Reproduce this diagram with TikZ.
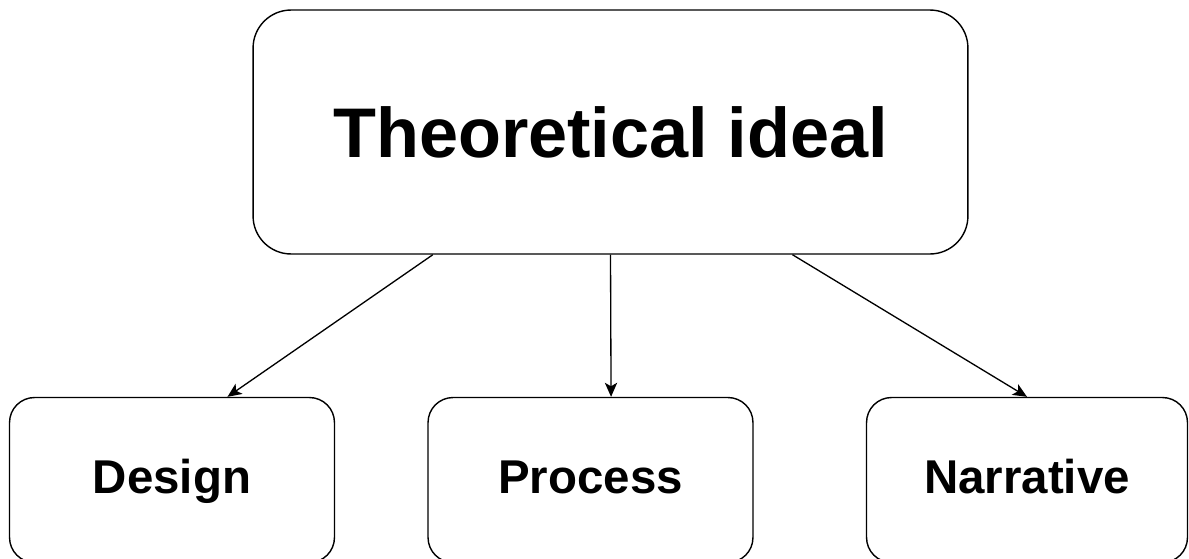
\documentclass[tikz,border=0pt]{standalone}
\usepackage{fontspec}
\setmainfont{Liberation Sans}
\usepackage{tikz}
\usetikzlibrary{arrows.meta, positioning, calc}

\begin{document}
\begin{tikzpicture}[
  x=0.02cm, y=-0.02cm,
  bigbox/.style={draw, line width=0.8pt, rounded corners=0.76cm, minimum width=14.3cm, minimum height=4.88cm, font=\fontsize{40}{44}\selectfont\bfseries},
  subbox/.style={draw, line width=0.8pt, rounded corners=0.5cm, minimum width=6.5cm, minimum height=3.3cm, text height=20pt, text depth=5pt, font=\fontsize{27}{30}\selectfont\bfseries},
  link/.style={-{Stealth[length=8pt, width=7pt, inset=2pt]}, line width=0.75pt}
]
  \useasboundingbox (0,0) rectangle (1189,558);

  \node[bigbox] (theory) at (610.5, 132) {Theoretical ideal};

  \node[subbox] (design) at (172, 480) {Design};
  \node[subbox] (process) at (590.5, 480) {Process};
  \node[subbox, minimum width=6.42cm] (narrative) at (1027, 480) {Narrative};

  % arrows from the ideal down to the three parts
  \draw[link] ($(theory.south west)!.252!(theory.south east)$) -- ($(design.north west)!.67!(design.north east)$);
  \draw[link] ($(theory.south west)!.5!(theory.south east)$) -- ($(process.north west)!.563!(process.north east)$);
  \draw[link] ($(theory.south west)!.754!(theory.south east)$) -- (narrative.north);
\end{tikzpicture}
\end{document}
